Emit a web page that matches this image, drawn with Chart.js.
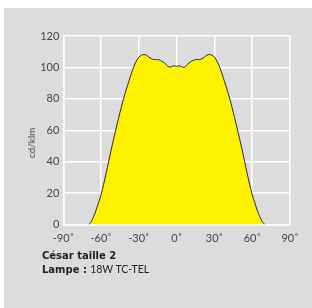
<!DOCTYPE html>
<html>
<head>
<meta charset="utf-8">
<script src="https://cdn.jsdelivr.net/npm/chart.js@4"></script>
<style>
html,body{margin:0;padding:0;background:#fff;}
#wrap{position:absolute;left:0;top:0;width:312px;height:308px;}
canvas{position:absolute;left:0;top:0;}
.cap{position:absolute;left:42px;font-family:"DejaVu Sans",sans-serif;font-size:10px;color:#222;white-space:nowrap;line-height:12.5px;}
.cap b{font-weight:bold;}
.cap span{font-family:"Lato",sans-serif;font-size:10.5px;}
#ylab{position:absolute;left:31px;top:143px;transform:translate(-50%,-50%) rotate(-90deg);font-family:"Lato",sans-serif;font-size:10px;color:#444;white-space:nowrap;}
</style>
</head>
<body>
<div id="wrap">
<canvas id="c" width="312" height="308"></canvas>
<div id="ylab">cd/klm</div>
<div class="cap" style="top:250px;"><b>César taille 2</b><br><b>Lampe :</b> <span>18W TC-TEL</span></div>
</div>
<script>
const angles = [-70,-68,-66,-64,-62,-60,-58,-56,-54,-52,-50,-48,-46,-44,-42,-40,-38,-36,-34,-32,-30,-28,-26,-24,-22,-20,-18,-16,-14,-12,-10,-8,-6,-4,-2,0,2,4,6,8,10,12,14,16,18,20,22,24,26,28,30,32,34,36,38,40,42,44,46,48,50,52,54,56,58,60,62,64,66,68,70];
const intensity = [0,1.5,5,9,14,19,25.5,32.5,40,47.5,54.5,61.5,68,74.5,80.5,86,91,96,100.5,104,106.5,107.8,108.2,107.8,106.5,105.5,105,105,104.8,104,103,101.5,100.3,100.5,101,100.7,101,100.5,100,101.5,103,104,104.8,105,105,105.5,106.5,107.8,108.2,107.8,106.5,104,100.5,96,91,86,80.5,74.5,68,61.5,54.5,47.5,40,32.5,25.5,19,14,9,5,1.8,0];
const xTicks = [-90,-60,-30,0,30,60,90];
const yTicks = [0,20,40,60,80,100,120];

const bgPlugin = {
  id:'bg',
  beforeDraw(chart){
    const ctx = chart.ctx;
    ctx.save();
    ctx.fillStyle = '#dcdcdd';
    ctx.fillRect(4,8,chart.width-4,chart.height-8);
    ctx.restore();
  }
};

new Chart(document.getElementById('c'), {
  type:'line',
  data:{
    datasets:[{
      data: angles.map((a,i)=>({x:a,y:intensity[i]})),
      borderColor:'#2a2a2a',
      borderWidth:1,
      backgroundColor:'#fff200',
      fill:'origin',
      pointRadius:0,
      tension:0.35
    }]
  },
  options:{
    responsive:false,
    animation:false,
    layout:{padding:{left:0,top:36,right:22,bottom:63.5}},
    plugins:{legend:{display:false},tooltip:{enabled:false}},
    scales:{
      x:{
        type:'linear',min:-90,max:90,
        afterBuildTicks(s){ s.ticks = xTicks.map(v=>({value:v})); },
        afterFit(s){ s.height = 20; },
        grid:{color:'#ffffff',lineWidth:1.5,drawTicks:false},
        border:{color:'#ffffff',width:1.5},
        ticks:{padding:7,color:'#444',font:{family:'Lato',size:11},callback:v=>v+'˚',maxRotation:0}
      },
      y:{
        min:0,max:120,
        afterBuildTicks(s){ s.ticks = yTicks.map(v=>({value:v})); },
        afterFit(s){ s.width = 63.3; },
        grid:{color:'#ffffff',lineWidth:1.5,drawTicks:false},
        border:{color:'#ffffff',width:1.5},
        ticks:{padding:4,color:'#444',font:{family:'Lato',size:11}}
      }
    }
  },
  plugins:[bgPlugin]
});
</script>
</body>
</html>
